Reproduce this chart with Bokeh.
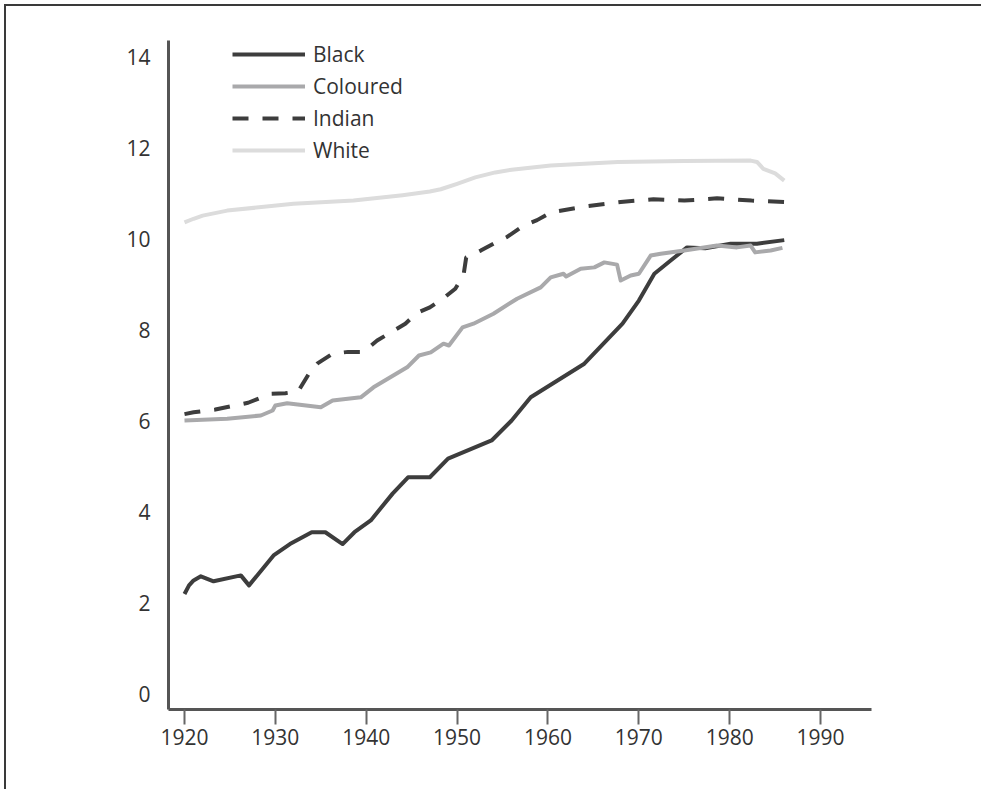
from bokeh.plotting import figure
from bokeh.models import Range1d, FixedTicker, Legend, LegendItem
from bokeh.embed import file_html
from bokeh.resources import INLINE

# ---- data (years, mean years of schooling) ----
black_years = [1920, 1920.5, 1921, 1921.8, 1923.2, 1926.2, 1927.1, 1929.8, 1931.6, 1934.0, 1935.5,
               1937.4, 1938.7, 1940.5, 1942.9, 1944.6, 1947.0, 1949.0, 1953.8, 1956.0, 1958.1,
               1964.0, 1968.2, 1970.0, 1971.7, 1973.5, 1975.3, 1977.3, 1980.1, 1983.0, 1986.0]
black_vals = [2.19, 2.38, 2.49, 2.58, 2.47, 2.6, 2.38, 3.04, 3.29, 3.55, 3.55,
              3.29, 3.55, 3.81, 4.40, 4.76, 4.76, 5.17, 5.57, 6.01, 6.52,
              7.26, 8.14, 8.65, 9.24, 9.53, 9.82, 9.80, 9.9, 9.9, 9.98]

coloured_years = [1920, 1924.7, 1928.4, 1929.7, 1930.0, 1931.3, 1935.0, 1936.3, 1939.4, 1940.8,
                  1944.5, 1945.8, 1947.1, 1948.5, 1949.1, 1950.6, 1951.8, 1954.0, 1956.6, 1959.2,
                  1960.3, 1961.7, 1962.0, 1963.6, 1965.1, 1966.2, 1967.6, 1968.0, 1969.1, 1970.0,
                  1971.3, 1972.4, 1975.0, 1978.6, 1980.8, 1982.3, 1982.8, 1984.5, 1985.8]
coloured_vals = [6.01, 6.05, 6.12, 6.23, 6.34, 6.39, 6.3, 6.45, 6.52, 6.74,
                 7.18, 7.44, 7.51, 7.70, 7.66, 8.06, 8.14, 8.36, 8.69, 8.94,
                 9.16, 9.24, 9.18, 9.35, 9.38, 9.49, 9.44, 9.09, 9.2, 9.24,
                 9.64, 9.68, 9.75, 9.86, 9.82, 9.86, 9.71, 9.75, 9.81]

indian_years = [1920, 1921, 1923.4, 1927, 1929.5, 1931.1, 1932.5, 1933.7, 1934.6, 1936.3, 1938,
                1939.7, 1941.2, 1942.7, 1944.3, 1945.6, 1947, 1948.5, 1949.8, 1950.7, 1951.0,
                1952.6, 1954, 1955.5, 1957.3, 1958.8, 1960.3, 1964, 1968, 1971.6, 1975, 1978.6,
                1982.4, 1986]
indian_vals = [6.15, 6.19, 6.25, 6.4, 6.6, 6.61, 6.65, 7.04, 7.26, 7.48, 7.52,
               7.52, 7.77, 7.95, 8.14, 8.38, 8.5, 8.7, 8.91, 9.2, 9.6,
               9.75, 9.9, 10.05, 10.3, 10.42, 10.59, 10.72, 10.82, 10.88, 10.85, 10.9,
               10.85, 10.82]

white_years = [1920, 1921, 1922, 1924.7, 1932, 1938.6, 1944, 1947, 1948.2, 1950, 1952, 1954.2,
               1956, 1960.3, 1967.7, 1975, 1982.3, 1983.0, 1983.7, 1985, 1986]
white_vals = [10.37, 10.45, 10.52, 10.63, 10.78, 10.85, 10.97, 11.05, 11.1, 11.22, 11.36, 11.47,
              11.53, 11.62, 11.7, 11.72, 11.73, 11.7, 11.55, 11.45, 11.29]

series_names = ["Black", "Coloured", "Indian", "White"]
x_ticks = [1920, 1930, 1940, 1950, 1960, 1970, 1980, 1990]
y_ticks = [0, 2, 4, 6, 8, 10, 12, 14]

FONT = "Open Sans"
TXT = "#333333"

W, H = 980, 785
p = figure(width=W, height=H, output_backend="svg", toolbar_location=None,
           x_range=Range1d(1918.24, 1995.6), y_range=Range1d(-0.352, 14.374),
           min_border_left=162, min_border_top=34, min_border_right=W - 865,
           min_border_bottom=H - 703)

p.outline_line_color = None
p.xgrid.visible = False
p.ygrid.visible = False
p.background_fill_color = "white"
p.border_fill_color = "white"
p.styles = {"border-top": "2px solid #3a3a3a", "border-left": "2px solid #3a3a3a",
            "border-right": "0px none", "border-bottom": "0px none",
            "margin-top": "4px", "margin-left": "4px",
            "clip-path": "inset(0px 3px 0px 0px)"}

r_black = p.line(black_years, black_vals, line_color="#3d3d3d", line_width=4, line_join="round")
r_col = p.line(coloured_years, coloured_vals, line_color="#a9a9ab", line_width=4, line_join="round")
r_ind = p.line(indian_years, indian_vals, line_color="#3d3d3d", line_width=4, line_dash="16 14")
r_white = p.line(white_years, white_vals, line_color="#dcdcdc", line_width=4, line_join="round")

for ax in (p.xaxis[0], p.yaxis[0]):
    ax.axis_line_color = "#555555"
    ax.axis_line_width = 3
    ax.minor_tick_line_color = None
    ax.major_label_text_font = FONT
    ax.major_label_text_font_size = "21px"
    ax.major_label_text_color = TXT

p.xaxis[0].ticker = FixedTicker(ticks=x_ticks)
p.xaxis[0].major_tick_line_color = "#666666"
p.xaxis[0].major_tick_line_width = 2
p.xaxis[0].major_tick_out = 15
p.xaxis[0].major_tick_in = 0
p.xaxis[0].major_label_standoff = 4

p.yaxis[0].ticker = FixedTicker(ticks=y_ticks)
p.yaxis[0].major_tick_line_color = None
p.yaxis[0].major_tick_out = 0
p.yaxis[0].major_tick_in = 0
p.yaxis[0].major_label_standoff = 18

legend = Legend(items=[LegendItem(label=n, renderers=[r]) for n, r in
                       zip(series_names, [r_black, r_col, r_ind, r_white])],
                location=(64, 545), orientation="vertical",
                glyph_width=73, glyph_height=20, label_height=20, spacing=4,
                label_standoff=8, padding=0, margin=0,
                border_line_color=None, background_fill_alpha=0,
                label_text_font=FONT, label_text_font_size="21px", label_text_color=TXT)
p.add_layout(legend)

open("out.html", "w").write(file_html(p, INLINE))
